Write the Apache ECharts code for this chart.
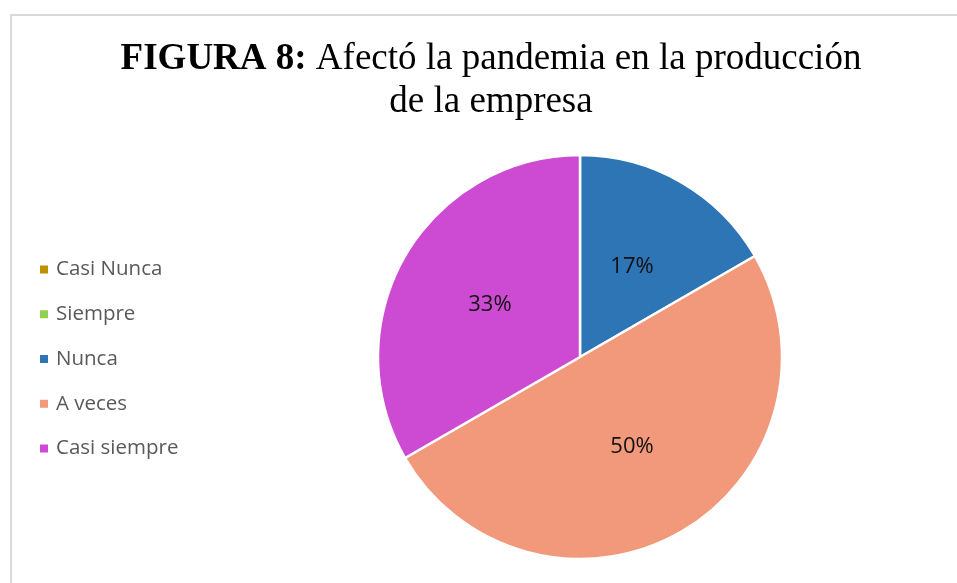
<!DOCTYPE html>
<html>
<head>
<meta charset="utf-8">
<script src="https://cdn.jsdelivr.net/npm/echarts@6/dist/echarts.min.js"></script>
<style>
html,body{margin:0;padding:0;background:#fff;}
#c{width:957px;height:583px;}
</style>
</head>
<body>
<div id="c"></div>
<script>
var categories = ['Casi Nunca', 'Siempre', 'Nunca', 'A veces', 'Casi siempre'];
var values = [0, 0, 1, 3, 2];
var colors = ['#BF9000', '#92D050', '#2E75B6', '#F1997A', '#CD4BD3'];
var titleBold = 'FIGURA 8:';
var titleRest = 'Afectó la pandemia en la producción';
var titleLine2 = 'de la empresa';

var total = values.reduce(function (a, b) { return a + b; }, 0);
var data = categories.map(function (c, i) {
  return { name: c, value: values[i], itemStyle: { color: colors[i] } };
});

var chart = echarts.init(document.getElementById('c'), null, { renderer: 'canvas' });
chart.setOption({
  animation: false,
  backgroundColor: '#fff',
  graphic: [{
    type: 'rect',
    shape: { x: 11, y: 15, width: 1200, height: 1000 },
    style: { fill: 'none', stroke: '#d9d9d9', lineWidth: 2 },
    silent: true
  }],
  title: {
    text: '{b|' + titleBold + '} ' + titleRest + '\n' + titleLine2,
    left: 486,
    top: 33,
    textAlign: 'center',
    textStyle: {
      fontFamily: 'Liberation Serif',
      fontSize: 37,
      fontWeight: 'normal',
      color: '#000',
      lineHeight: 43,
      rich: {
        b: { fontFamily: 'Liberation Serif', fontSize: 37, fontWeight: 'bold', color: '#000', lineHeight: 43 }
      }
    }
  },
  legend: {
    orient: 'vertical',
    left: 33,
    top: 254,
    icon: 'rect',
    itemWidth: 10,
    itemHeight: 10,
    itemGap: 23.75,
    data: categories,
    textStyle: { fontFamily: 'Open Sans', fontSize: 20.5, color: '#595959', lineHeight: 20, padding: [0, 0, 0, 2] }
  },
  series: [{
    type: 'pie',
    center: [580, 357],
    radius: [0, 202],
    startAngle: 90,
    clockwise: true,
    avoidLabelOverlap: false,
    itemStyle: { borderColor: '#fff', borderWidth: 2.5 },
    label: {
      show: true,
      position: 'inside',
      fontFamily: 'Open Sans',
      fontSize: 22,
      color: '#111',
      formatter: function (p) {
        if (!p.value) return '';
        return Math.round(p.value / total * 100) + '%';
      }
    },
    labelLine: { show: false },
    emphasis: { disabled: true },
    data: data
  }]
});
</script>
</body>
</html>
